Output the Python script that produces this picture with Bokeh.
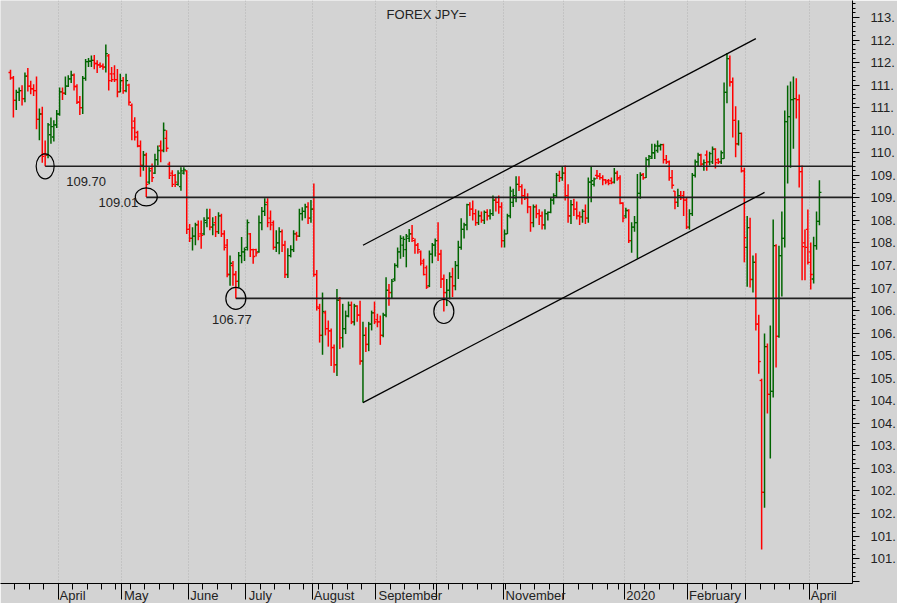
import pandas as pd
from bokeh.plotting import figure
from bokeh.models import (ColumnDataSource, FixedTicker, SingleIntervalTicker,
                          CustomJSTickFormatter, Range1d, Label)
from bokeh.embed import file_html
from bokeh.resources import INLINE

# ---------------- data: daily USD/JPY bars (open, high, low, close) ----------------
mar19 = [(111.78,111.84,111.62,111.66),(111.66,111.70,110.78,111.16),(111.16,111.40,110.95,111.34),
         (111.34,111.45,111.15,111.38),(111.38,111.50,111.05,111.20),(111.20,111.78,111.12,111.70),
         (111.70,111.88,111.36,111.48),(111.48,111.60,111.30,111.42),(111.42,111.52,111.26,111.38),
         (111.38,111.69,110.52,110.74),(110.74,110.98,110.28,110.86),(110.86,111.02,109.78,109.92),
         (109.98,110.27,109.70,109.95),(109.95,110.66,109.88,110.62),(110.40,110.78,110.20,110.58),
         (110.35,110.72,110.25,110.62),(110.62,110.95,110.55,110.86)]
apr19 = [(110.86,111.45,110.82,111.35),(111.35,111.45,111.17,111.32),(111.32,111.69,111.28,111.48),
         (111.48,111.72,111.46,111.64),(111.64,111.82,111.55,111.72),(111.72,111.76,111.38,111.47),
         (111.47,111.52,111.08,111.12),(111.12,111.26,110.84,111.00),(111.00,111.70,110.86,111.65),
         (111.65,112.08,111.60,112.02),(112.02,112.10,111.90,112.03),(112.03,112.16,111.90,112.05),
         (112.05,112.17,111.85,111.98),(111.98,112.05,111.77,111.95),(111.95,112.00,111.88,111.92),
         (111.92,111.98,111.84,111.90),(111.90,112.40,111.78,112.20),(112.15,112.19,111.38,111.60),
         (111.75,111.90,111.57,111.62),(111.75,111.94,111.57,111.62),(111.62,111.86,111.23,111.35),
         (111.35,111.75,111.34,111.60)]
may19 = [(111.60,111.68,111.31,111.38),(111.38,111.75,111.34,111.60),(111.50,111.53,111.05,111.12),
         (111.05,111.09,110.28,110.55),(110.70,110.79,110.27,110.35),(110.45,110.49,110.12,110.15),
         (110.15,110.27,109.47,109.72),(109.72,110.04,109.60,109.95),(109.95,110.00,109.02,109.30),
         (109.35,109.68,109.30,109.60),(109.65,109.76,109.35,109.45),(109.55,109.98,109.53,109.85),
         (109.85,110.16,109.72,110.05),(110.15,110.27,109.79,110.05),(110.05,110.67,110.01,110.50),
         (110.32,110.50,110.02,110.10),(109.75,109.80,109.42,109.50),(109.55,109.61,109.24,109.30),
         (109.50,109.53,109.24,109.35),(109.30,109.61,109.27,109.55),(109.25,109.68,109.16,109.60),
         (109.55,109.68,109.52,109.62),(109.60,109.61,108.20,108.30)]
jun19 = [(108.30,108.42,108.02,108.10),(108.10,108.35,107.83,108.15),(108.15,108.45,107.95,108.40),
         (108.40,108.50,108.06,108.15),(108.20,108.50,107.87,108.17),(108.20,108.57,108.17,108.50),
         (108.45,108.76,108.35,108.55),(108.55,108.76,108.28,108.35),(108.35,108.57,108.17,108.40),
         (108.45,108.60,108.13,108.25),(108.25,108.68,108.20,108.60),(108.60,108.65,108.13,108.20),
         (108.20,108.28,107.83,107.90),(107.95,108.09,107.24,107.30),(107.30,107.72,107.05,107.55),
         (107.50,107.60,107.05,107.30),(107.30,107.38,106.77,107.15),(107.15,107.80,107.02,107.72),
         (107.72,108.13,107.55,107.80),(107.80,107.90,107.60,107.85)]
jul19 = [(107.90,108.52,107.83,108.45),(108.20,108.22,107.69,107.85),(107.85,107.87,107.54,107.70),
         (107.85,107.87,107.70,107.78),(107.80,108.61,107.78,108.45),(108.45,108.80,108.28,108.70),
         (108.70,108.99,108.60,108.85),(108.90,108.99,108.35,108.45),(108.55,108.72,108.28,108.40),
         (108.45,108.50,107.85,107.90),(107.90,108.28,107.80,108.00),(108.00,108.35,107.75,108.25),
         (108.25,108.30,107.80,107.95),(107.95,108.05,107.22,107.30),(107.30,107.88,107.22,107.72),
         (107.72,107.95,107.68,107.85),(107.85,108.28,107.80,108.20),(108.20,108.25,108.05,108.15),
         (108.15,108.76,108.13,108.65),(108.65,108.79,108.50,108.70),(108.70,108.87,108.55,108.80),
         (108.80,108.90,108.42,108.55),(108.55,108.95,108.45,108.75)]
aug19 = [(108.75,109.32,107.25,107.30),(107.30,107.40,106.50,106.58),(106.55,106.65,105.79,105.95),
         (105.95,106.90,105.52,106.48),(106.45,106.50,105.95,106.10),(106.10,106.28,105.70,106.05),
         (106.05,106.10,105.27,105.68),(105.68,105.75,105.12,105.30),(105.30,106.98,105.05,106.73),
         (106.73,106.80,105.65,105.90),(105.90,106.65,105.68,106.10),(106.10,106.50,105.98,106.38),
         (106.38,106.70,106.35,106.62),(106.62,106.70,106.20,106.25),(106.25,106.65,106.17,106.60),
         (106.60,106.62,106.25,106.40),(106.40,106.72,105.30,105.38),(105.38,106.25,104.46,105.95),
         (105.95,106.13,105.58,105.75),(105.75,106.25,105.60,106.20),(106.20,106.50,106.06,106.45),
         (106.45,106.70,106.20,106.25)]
sep19 = [(106.30,106.43,106.13,106.25),(106.25,106.39,105.74,105.95),(105.95,106.45,105.91,106.40),
         (106.40,107.24,106.35,106.95),(106.95,107.09,106.61,106.90),(106.90,107.20,106.76,107.15),
         (107.20,107.55,107.15,107.50),(107.50,107.90,107.45,107.80),(107.80,108.17,107.65,108.10),
         (107.95,108.15,107.69,108.08),(107.85,108.20,107.46,108.15),(108.10,108.31,108.02,108.20),
         (108.20,108.40,108.02,108.10),(108.05,108.10,107.76,107.95),(107.95,108.00,107.76,107.85),
         (107.80,107.83,107.50,107.55),(107.60,107.65,107.28,107.30),(107.45,107.50,106.98,107.02),
         (107.05,107.83,107.02,107.75),(107.75,108.00,107.55,107.95),(107.95,108.10,107.70,108.05)]
oct19 = [(108.05,108.46,107.60,107.75),(107.75,107.85,107.00,107.20),(107.20,107.30,106.48,106.90),
         (106.90,107.20,106.60,106.95),(106.95,107.35,106.75,107.25),(107.25,107.45,106.80,107.05),
         (107.05,107.60,106.95,107.50),(107.50,108.05,107.20,107.90),(107.90,108.55,107.85,108.30),
         (108.30,108.45,108.10,108.40),(108.40,108.87,108.28,108.85),(108.85,108.90,108.60,108.75),
         (108.75,108.94,108.50,108.65),(108.65,108.75,108.38,108.45),(108.45,108.72,108.40,108.60),
         (108.60,108.70,108.45,108.50),(108.50,108.72,108.42,108.68),(108.68,108.75,108.50,108.60),
         (108.60,108.75,108.52,108.65),(108.65,109.05,108.60,108.95),(108.95,109.00,108.70,108.90),
         (108.90,109.05,108.65,108.80),(108.80,108.90,107.90,108.05)]
nov19 = [(108.05,108.30,107.90,108.20),(108.20,108.65,108.20,108.60),(108.60,109.25,108.55,109.15),
         (108.90,109.20,108.80,109.05),(109.00,109.48,108.90,109.30),(109.30,109.48,109.15,109.25),
         (109.25,109.30,108.85,109.05),(109.05,109.20,108.95,109.00),(109.00,109.10,108.66,108.80),
         (108.80,108.82,108.25,108.45),(108.45,108.85,108.35,108.80),(108.80,108.85,108.55,108.65),
         (108.65,108.75,108.40,108.60),(108.60,108.70,108.30,108.40),(108.40,108.75,108.30,108.65),
         (108.65,108.70,108.50,108.68),(108.68,109.00,108.66,108.95),(108.95,109.10,108.85,109.05),
         (109.05,109.55,109.00,109.50),(109.50,109.60,109.35,109.45),(109.45,109.70,109.38,109.55)]
dec19 = [(109.55,109.72,108.94,109.05),(109.05,109.30,108.45,108.60),(108.60,108.95,108.42,108.85),
         (108.85,108.98,108.60,108.75),(108.75,108.92,108.52,108.60),(108.60,108.70,108.40,108.58),
         (108.58,108.75,108.45,108.70),(108.70,108.85,108.42,108.55),(108.55,109.45,108.45,109.35),
         (109.35,109.70,108.90,109.38),(109.30,109.45,109.25,109.42),(109.50,109.62,109.42,109.48),
         (109.48,109.55,109.40,109.45),(109.45,109.50,109.28,109.40),(109.40,109.42,109.30,109.35),
         (109.38,109.42,109.28,109.32),(109.38,109.45,109.30,109.34),(109.35,109.66,109.32,109.55),
         (109.55,109.60,109.38,109.42),(109.45,109.50,108.86,108.88),(108.88,108.90,108.46,108.55)]
jan20 = [(108.60,108.78,108.55,108.72),(108.72,108.75,108.00,108.05),(108.05,108.46,107.78,108.35),
         (108.35,108.60,108.25,108.45),(108.45,109.53,107.65,109.10),(109.10,109.57,108.98,109.50),
         (109.52,109.55,109.40,109.45),(109.45,109.90,109.44,109.85),(109.85,109.95,109.68,109.92),
         (109.88,110.20,109.86,110.00),(110.00,110.20,109.86,110.15),(110.05,110.27,110.00,110.15),
         (110.15,110.20,110.05,110.18),(110.18,110.20,109.76,109.85),(109.85,109.95,109.75,109.80),
         (109.80,109.83,109.38,109.45),(109.45,109.62,109.20,109.28),(109.15,109.15,108.75,108.90),
         (108.90,109.20,108.80,109.05),(109.05,109.15,108.95,109.00),(109.05,109.15,108.60,108.95),
         (108.95,109.00,108.31,108.35)]
feb20 = [(108.35,108.75,108.30,108.65),(108.65,109.55,108.60,109.50),(109.50,109.85,109.45,109.80),
         (109.80,110.00,109.70,109.95),(109.95,109.98,109.70,109.75),(109.75,109.85,109.60,109.78),
         (109.95,110.05,109.60,109.80),(109.80,110.02,109.72,109.98),(109.80,110.14,109.75,110.08),
         (110.08,110.10,109.65,109.78),(109.85,109.88,109.75,109.80),(109.80,110.05,109.75,110.00),
         (109.87,111.56,109.87,111.34),(111.34,112.21,111.10,112.09),(112.09,112.16,111.47,111.57),
         (111.57,111.67,110.34,110.72),(110.72,111.03,109.90,110.20),(110.20,110.72,110.16,110.43),
         (110.43,110.45,109.56,109.60),(109.60,109.67,107.57,108.12)]
mar20 = [(107.90,108.60,107.03,108.34),(108.34,108.56,107.01,107.19),(107.19,107.72,106.90,107.57),
         (107.57,107.77,106.06,106.20),(106.20,106.41,105.10,105.37),(104.95,104.99,101.20,102.47),
         (102.47,105.99,102.13,105.70),(105.70,105.77,104.22,104.64),(104.64,106.17,103.22,104.71),
         (104.71,108.52,104.57,107.94),(107.94,107.97,105.24,105.93),(105.93,107.94,105.90,107.72),
         (107.72,108.70,106.81,108.10),(108.10,110.94,107.90,110.69),(110.69,111.49,109.32,110.80),
         (110.80,111.58,109.67,111.18),(111.18,111.69,110.09,111.20),(111.20,111.65,110.76,111.18),
         (111.18,111.29,109.23,109.58),(109.58,109.72,107.17,107.92),(108.00,108.30,107.17,107.90),
         (108.30,108.74,107.52,107.57)]
apr20 = [(107.80,108.01,106.97,107.30),(107.20,108.14,107.10,107.94),(107.94,108.70,107.85,108.48),
         (108.48,109.39,108.39,109.12)]

first_day = "2019-03-07"
last_day = "2020-04-06"
no_quote_days = ["2019-12-25", "2020-01-01"]

# support levels marked on the chart
level_values = [109.70, 109.01, 106.77]
level_dates = ["2019-03-25", "2019-05-13", "2019-06-25"]
level_texts = ["109.70", "109.01", "106.77"]
# circled lows
circle_dates = ["2019-03-25", "2019-05-13", "2019-06-25", "2019-10-03"]
# rising channel (date, price)
upper_channel = [("2019-08-26", 107.95), ("2020-03-05", 112.53)]
lower_channel = [("2019-08-26", 104.46), ("2020-03-10", 109.12)]

month_names = {4: "April", 5: "May", 6: "June", 7: "July", 8: "August", 9: "September",
               10: "", 11: "November", 12: "", 1: "2020", 2: "February", 3: ""}
lowest_price_label = 101.0
chart_title = "FOREX JPY="

# ---------------- build table ----------------
rows = [r for m in (mar19, apr19, may19, jun19, jul19, aug19, sep19, oct19, nov19,
                    dec19, jan20, feb20, mar20, apr20) for r in m]
dates = pd.bdate_range(first_day, last_day)
dates = dates[~dates.isin(pd.to_datetime(no_quote_days))]
n = min(len(dates), len(rows))
dates = dates[:n]
rows = rows[:n]
pos = {d: i + 0.5 for i, d in enumerate(dates)}

o = [r[0] for r in rows]
c = [r[3] for r in rows]
h = [max(r) for r in rows]
l = [min(r) for r in rows]
xs = [i + 0.5 for i in range(n)]
up = [cc >= oo for oo, cc in zip(o, c)]
src = ColumnDataSource(dict(
    x=xs, o=o, h=h, l=l, c=c,
    xl=[x - 0.7 for x in xs], xr=[x + 0.7 for x in xs],
    color=["#006400" if u else "#ff0000" for u in up]))

# ---------------- style / layout ----------------
FONT = "Liberation Sans"
FONT_PX = 13
# Arial/Liberation Sans advance widths (em) used to left-align the centred axis labels
EM = {"A": .667, "p": .556, "r": .333, "i": .222, "l": .222, "M": .833, "a": .556, "y": .5,
      "J": .5, "u": .556, "n": .556, "e": .556, "g": .556, "s": .5, "t": .278, "S": .667,
      "m": .833, "b": .556, "N": .722, "o": .556, "v": .5, "F": .611, "0": .556, "2": .556}
SPACE_EM = 0.278
GAP_PX = 2.0


def left_aligned(name):
    if not name:
        return ""
    w = sum(EM.get(ch, 0.556) for ch in name) * FONT_PX
    k = int(round((w + 2 * GAP_PX) / (SPACE_EM * FONT_PX)))
    return "\u00a0" * k + name


month_ticks, month_labels = [], {}
for i in range(1, n):
    if dates[i].month != dates[i - 1].month:
        month_ticks.append(i)
        month_labels[i] = left_aligned(month_names[dates[i].month])
monday_ticks = [i for i in range(n) if dates[i].weekday() == 0]

FRAME_W, FRAME_H = 852, 583
PX_PER_BAR = 2.889
FIRST_BAR_PX = 10.0
x_start = 0.5 - FIRST_BAR_PX / PX_PER_BAR
x_end = x_start + FRAME_W / PX_PER_BAR
PX_PER_UNIT = 45.09
y_top = 113.0 + 17.0 / PX_PER_UNIT
y_bottom = y_top - FRAME_H / PX_PER_UNIT

BG = "#d3d3d3"

p = figure(frame_width=FRAME_W, frame_height=FRAME_H,
           x_range=Range1d(x_start, x_end), y_range=Range1d(y_bottom, y_top),
           y_axis_location="right", toolbar_location=None, output_backend="svg",
           min_border_left=0, min_border_top=0, min_border_right=45, min_border_bottom=20,
           background_fill_color=BG, border_fill_color=BG, outline_line_color=None)

# x axis
xa = p.xaxis[0]
xa.ticker = FixedTicker(ticks=month_ticks, minor_ticks=monday_ticks)
xa.major_label_overrides = month_labels
xa.major_label_text_font = FONT
xa.major_label_text_font_size = "%dpx" % FONT_PX
xa.major_label_text_color = "#222222"
xa.major_label_standoff = -12
xa.major_tick_out = 16
xa.major_tick_in = 0
xa.minor_tick_out = 6
xa.minor_tick_in = 0
xa.axis_line_color = "black"
xa.major_tick_line_color = "black"
xa.minor_tick_line_color = "black"

# y axis (labels truncated after the point, as in the original: "112." for 112.5)
ya = p.yaxis[0]
ya.ticker = SingleIntervalTicker(interval=0.5, num_minor_ticks=5)
ya.formatter = CustomJSTickFormatter(
    args=dict(lowest=lowest_price_label),
    code="if (tick < lowest - 1e-6) { return ''; } return Math.floor(tick + 1e-6) + '.';")
ya.major_tick_out = 7
ya.major_tick_in = 0
ya.minor_tick_out = 3
ya.minor_tick_in = 0
ya.major_label_standoff = 11
ya.major_label_text_font = FONT
ya.major_label_text_font_size = "%dpx" % FONT_PX
ya.major_label_text_color = "#222222"
ya.axis_line_color = "black"
ya.major_tick_line_color = "black"
ya.minor_tick_line_color = "black"

p.ygrid.visible = False
p.xgrid.grid_line_color = "#b2b2b2"
p.xgrid.grid_line_dash = "1 2"
p.xgrid.grid_line_width = 1

# OHLC bars
p.segment(x0="x", y0="l", x1="x", y1="h", line_color="color", line_width=1.5, source=src)
p.segment(x0="xl", y0="o", x1="x", y1="o", line_color="color", line_width=1.3, source=src)
p.segment(x0="x", y0="c", x1="xr", y1="c", line_color="color", line_width=1.3, source=src)

# support levels
lvl_x = [pos[pd.Timestamp(d)] for d in level_dates]
p.segment(x0=lvl_x, y0=level_values, x1=[x_end] * len(lvl_x), y1=level_values,
          line_color="#202020", line_width=1.6)

# circled lows
cx = [pos[pd.Timestamp(d)] for d in circle_dates]
cy = [l[int(x - 0.5)] for x in cx]
circle_w = [18, 22, 20, 20]
circle_h = [25, 18, 22, 24]
p.ellipse(x=cx, y=cy, width=circle_w, height=circle_h, width_units="screen",
          height_units="screen", fill_color=None, line_color="black", line_width=1.2)

# channel
for line in (upper_channel, lower_channel):
    p.line([pos[pd.Timestamp(d)] for d, _ in line], [v for _, v in line],
           line_color="black", line_width=1.3)

# level labels
label_style = dict(text_font=FONT, text_font_size="%dpx" % FONT_PX, text_color="#222222")
p.add_layout(Label(x=lvl_x[0], y=level_values[0], text=level_texts[0], x_offset=21, y_offset=-15,
                   text_align="left", text_baseline="middle", **label_style))
p.add_layout(Label(x=lvl_x[1], y=level_values[1], text=level_texts[1], x_offset=-8, y_offset=-5,
                   text_align="right", text_baseline="middle", **label_style))
p.add_layout(Label(x=lvl_x[2], y=level_values[2], text=level_texts[2], x_offset=-4, y_offset=-21,
                   text_align="center", text_baseline="middle", **label_style))

# title inside the frame
p.add_layout(Label(x=(x_start + x_end) / 2, y=y_top, y_offset=-14, text=chart_title,
                   text_align="center", text_baseline="middle", **label_style))

open("out.html", "w").write(file_html(p, INLINE))
